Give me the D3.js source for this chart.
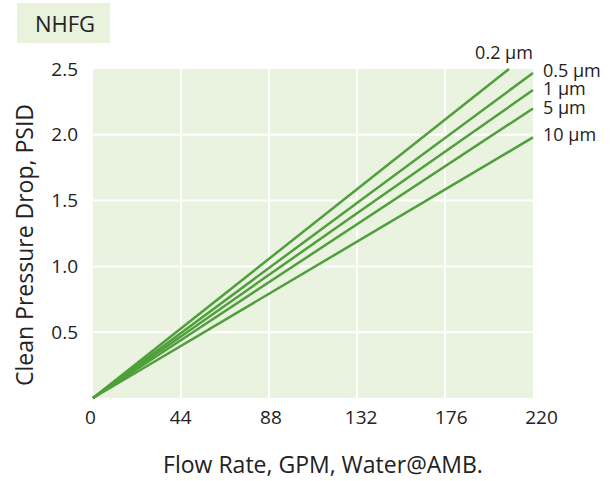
<!DOCTYPE html>
<html>
<head>
<meta charset="utf-8">
<script src="https://cdn.jsdelivr.net/npm/d3@7"></script>
<style>
  body { margin: 0; background: #fff; }
  text { font-family: "Open Sans", "Noto Sans", sans-serif; fill: #222; }
</style>
</head>
<body>
<div id="chart"></div>
<script>
const width = 614, height = 481;

// chart data
const title = "NHFG";
const xTicks = [0, 44, 88, 132, 176, 220];
const yTicks = [0.5, 1.0, 1.5, 2.0, 2.5];
const seriesNames = ["0.2 µm", "0.5 µm", "1 µm", "5 µm", "10 µm"];
const seriesEndFlow = [208, 220, 220, 220, 220];     // GPM at line end
const seriesEndDrop = [2.5, 2.47, 2.34, 2.20, 1.98]; // PSID at line end

const margin = {left: 93, right: 81, top: 69, bottom: 83};

const x = d3.scaleLinear().domain([0, 220]).range([margin.left, width - margin.right]);
const y = d3.scaleLinear().domain([0, 2.5]).range([height - margin.bottom, margin.top]);
// the tick labels sit a little wider apart than the grid in the original
const xLabel = d3.scaleLinear().domain([0, 220]).range([90, 541]);

const svg = d3.select("#chart").append("svg")
    .attr("width", width)
    .attr("height", height);

// title box
svg.append("rect")
    .attr("x", 17).attr("y", 3)
    .attr("width", 93).attr("height", 40)
    .attr("fill", "#e8f2dc");
svg.append("text")
    .attr("x", 65).attr("y", 32)
    .attr("text-anchor", "middle")
    .style("font-size", "22px")
    .text(title);

// plot background
svg.append("rect")
    .attr("x", x(0)).attr("y", y(2.5))
    .attr("width", x(220) - x(0)).attr("height", y(0) - y(2.5))
    .attr("fill", "#eaf3e0");

// grid lines
svg.append("g").selectAll("line")
    .data(xTicks.slice(1, -1)).enter()
    .append("line")
      .attr("x1", d => x(d)).attr("x2", d => x(d))
      .attr("y1", y(0)).attr("y2", y(2.5))
      .attr("stroke", "#fff").attr("stroke-width", 2);

svg.append("g").selectAll("line")
    .data(yTicks.slice(0, -1)).enter()
    .append("line")
      .attr("x1", x(0)).attr("x2", x(220))
      .attr("y1", d => y(d)).attr("y2", d => y(d))
      .attr("stroke", "#fff").attr("stroke-width", 2);

// axes (labels only)
const xAxis = svg.append("g")
    .attr("transform", "translate(0," + (y(0) + 9) + ")")
    .call(d3.axisBottom(xLabel).tickValues(xTicks).tickSize(0).tickFormat(d3.format("d")));
xAxis.select(".domain").remove();
xAxis.selectAll("text").style("font-size", "19px").attr("fill", "#222");

const yAxis = svg.append("g")
    .attr("transform", "translate(" + (x(0) - 12) + ",0)")
    .call(d3.axisLeft(y).tickValues(yTicks).tickSize(0).tickFormat(d3.format(".1f")));
yAxis.select(".domain").remove();
yAxis.selectAll("text").style("font-size", "19px").attr("fill", "#222");

// axis titles
svg.append("text")
    .attr("x", 323).attr("y", 473)
    .attr("text-anchor", "middle")
    .style("font-size", "23px")
    .text("Flow Rate, GPM, Water@AMB.");

svg.append("text")
    .attr("transform", "translate(33,245) rotate(-90)")
    .attr("text-anchor", "middle")
    .style("font-size", "23px")
    .text("Clean Pressure Drop, PSID");

// series lines
const line = d3.line().x(d => x(d[0])).y(d => y(d[1]));
const series = seriesNames.map((name, i) => ({
  name: name,
  points: [[0, 0], [seriesEndFlow[i], seriesEndDrop[i]]]
}));

svg.append("g").selectAll("path")
    .data(series).enter()
    .append("path")
      .attr("d", d => line(d.points))
      .attr("fill", "none")
      .attr("stroke", "#4f9f3b")
      .attr("stroke-width", 2.5);

// series labels
const labelPos = [[504, 59, "middle"], [543, 77, "start"], [543, 95, "start"], [543, 114, "start"], [543, 141, "start"]];
svg.append("g").selectAll("text")
    .data(series).enter()
    .append("text")
      .attr("x", (d, i) => labelPos[i][0])
      .attr("y", (d, i) => labelPos[i][1])
      .attr("text-anchor", (d, i) => labelPos[i][2])
      .style("font-size", "18px")
      .text(d => d.name);
</script>
</body>
</html>
